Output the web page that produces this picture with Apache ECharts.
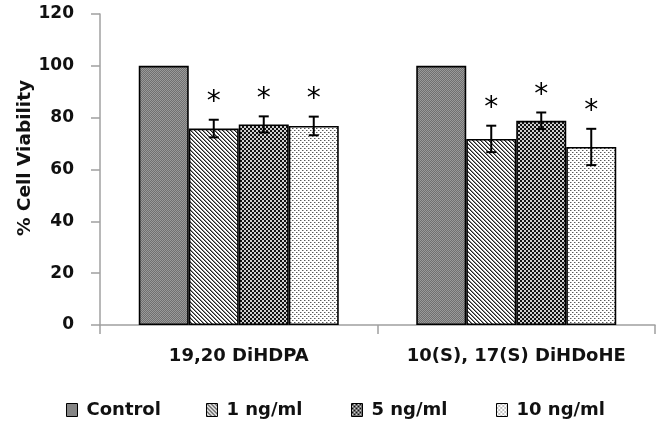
<!DOCTYPE html>
<html>
<head>
<meta charset="utf-8">
<script src="https://cdn.jsdelivr.net/npm/echarts@6/dist/echarts.min.js"></script>
<style>
html,body{margin:0;padding:0;background:#fff;}
#chart{width:661px;height:428px;}
</style>
</head>
<body>
<div id="chart"></div>
<script>
// ---- data ----
const categories = ['19,20 DiHDPA', '10(S), 17(S) DiHDoHE'];
const seriesNames = ['Control', '1 ng/ml', '5 ng/ml', '10 ng/ml'];
const control = [100, 100];
const ng1 = [75.8, 71.8];
const ng5 = [77.4, 78.8];
const ng10 = [76.8, 68.7];
const err1 = [3.4, 5.1];
const err5 = [3.1, 3.2];
const err10 = [3.6, 7.0];
const significant1 = [true, true];
const significant5 = [true, true];
const significant10 = [true, true];
const yTicks = [0, 20, 40, 60, 80, 100, 120];

// ---- fill patterns ----
function makePattern(size, draw) {
  const c = document.createElement('canvas');
  c.width = size; c.height = size;
  const ctx = c.getContext('2d');
  ctx.fillStyle = '#fff';
  ctx.fillRect(0, 0, size, size);
  draw(ctx);
  return { image: c, repeat: 'repeat' };
}
const patControl = makePattern(2, ctx => {
  ctx.fillStyle = '#707070'; ctx.fillRect(0, 0, 2, 2);
  ctx.fillStyle = '#9a9a9a'; ctx.fillRect(0, 0, 1, 1); ctx.fillRect(1, 1, 1, 1);
});
const patDiag = makePattern(4, ctx => {
  for (let y = 0; y < 4; y++) for (let x = 0; x < 4; x++) {
    const d = ((x - y) % 4 + 4) % 4;
    if (d === 0) { ctx.fillStyle = '#222'; ctx.fillRect(x, y, 1, 1); }
    else if (d === 1) { ctx.fillStyle = '#8a8a8a'; ctx.fillRect(x, y, 1, 1); }
  }
});
const patCheck = makePattern(4, ctx => {
  ctx.fillStyle = '#111';
  ctx.fillRect(0, 0, 2, 2); ctx.fillRect(2, 2, 2, 2);
  ctx.fillStyle = '#cfcfcf';
  ctx.fillRect(2, 0, 2, 2); ctx.fillRect(0, 2, 2, 2);
});
const patDots = makePattern(4, ctx => {
  ctx.fillStyle = '#5a5a5a';
  ctx.fillRect(0, 0, 1, 1); ctx.fillRect(2, 2, 1, 1);
  ctx.fillStyle = '#b0b0b0';
  ctx.fillRect(1, 0, 1, 1); ctx.fillRect(3, 2, 1, 1);
});
const patterns = [patControl, patDiag, patCheck, patDots];

const BAR_W = 50;
const FONT = 'DejaVu Sans';

const values = [control, ng1, ng5, ng10];
const errs = [null, err1, err5, err10];
const sigs = [null, significant1, significant5, significant10];

const barSeries = values.map((vals, i) => ({
  name: seriesNames[i],
  type: 'bar',
  data: vals,
  barWidth: BAR_W,
  barGap: '0%',
  itemStyle: { color: patterns[i], borderColor: '#000', borderWidth: 1.6 },
  emphasis: { disabled: true }
}));

const errData = [];
for (let s = 1; s < 4; s++) {
  for (let c = 0; c < categories.length; c++) {
    errData.push([c, s, values[s][c], errs[s][c], sigs[s][c] ? 1 : 0]);
  }
}

const errSeries = {
  type: 'custom',
  name: 'err',
  z: 10,
  encode: { x: 0, y: 2 },
  data: errData,
  renderItem: function (params, api) {
    const cat = api.value(0), si = api.value(1), val = api.value(2), err = api.value(3), sig = api.value(4);
    const base = api.coord([cat, 0]);
    const x = base[0] + (si - 1.5) * BAR_W;
    const yHi = api.coord([cat, val + err])[1];
    const yLo = api.coord([cat, val - err])[1];
    const st = { stroke: '#000', lineWidth: 2 };
    const children = [
      { type: 'line', shape: { x1: x, y1: yHi, x2: x, y2: yLo }, style: st },
      { type: 'line', shape: { x1: x - 5, y1: yHi, x2: x + 5, y2: yHi }, style: st },
      { type: 'line', shape: { x1: x - 5, y1: yLo, x2: x + 5, y2: yLo }, style: st }
    ];
    if (sig) {
      children.push({
        type: 'text',
        style: { text: '*', x: x, y: yHi - 17, align: 'center', verticalAlign: 'middle',
                 fontFamily: FONT, fontSize: 28, fill: '#000' }
      });
    }
    return { type: 'group', children: children };
  }
};

function legendAt(name, left) {
  return {
    data: [name], left: left, top: 396, itemWidth: 11, itemHeight: 13, itemGap: 0,
    icon: 'rect', selectedMode: false,
    itemStyle: { borderColor: '#000', borderWidth: 1 },
    textStyle: { fontFamily: FONT, fontWeight: 'bold', fontSize: 18, color: '#111', padding: [0, 0, 0, 4] }
  };
}

const option = {
  animation: false,
  backgroundColor: '#fff',
  grid: { left: 100, right: 6, top: 14, bottom: 103, containLabel: false },
  xAxis: {
    type: 'category',
    data: categories,
    axisLine: { lineStyle: { color: '#a0a0a0', width: 1.5 } },
    axisTick: { show: true, interval: 0, length: 9, lineStyle: { color: '#a0a0a0', width: 1.5 } },
    axisLabel: { interval: 0, hideOverlap: false, fontFamily: FONT, fontWeight: 'bold', fontSize: 18, color: '#111', margin: 22 }
  },
  yAxis: {
    type: 'value',
    min: yTicks[0], max: yTicks[yTicks.length - 1], interval: yTicks[1] - yTicks[0],
    axisLine: { show: true, lineStyle: { color: '#a0a0a0', width: 1.5 } },
    axisTick: { show: true, length: 9, lineStyle: { color: '#a0a0a0', width: 1.5 } },
    splitLine: { show: false },
    axisLabel: { fontFamily: FONT, fontWeight: 'bold', fontSize: 17, color: '#111', margin: 26 }
  },
  legend: [
    legendAt(seriesNames[0], 61),
    legendAt(seriesNames[1], 201),
    legendAt(seriesNames[2], 346),
    legendAt(seriesNames[3], 491)
  ],
  graphic: [{
    type: 'text', x: 25, y: 158, rotation: Math.PI / 2,
    style: { text: '% Cell Viability', fontFamily: FONT, fontWeight: 'bold', fontSize: 18.5,
             fill: '#111', align: 'center', verticalAlign: 'middle' }
  }],
  series: barSeries.concat([errSeries])
};

const chart = echarts.init(document.getElementById('chart'), null, { renderer: 'canvas' });
chart.setOption(option);
</script>
</body>
</html>
